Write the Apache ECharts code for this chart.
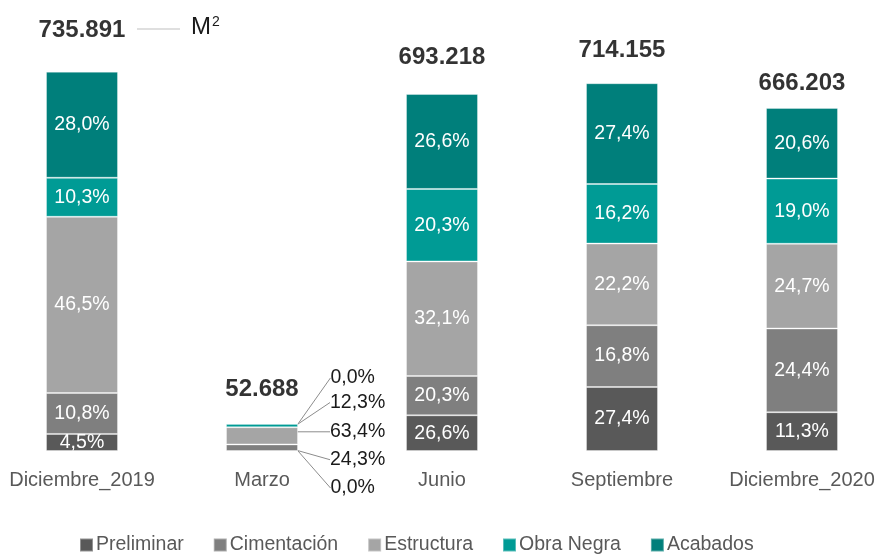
<!DOCTYPE html>
<html>
<head>
<meta charset="utf-8">
<script src="https://cdn.jsdelivr.net/npm/echarts@6/dist/echarts.min.js"></script>
<style>
  html, body { margin: 0; padding: 0; background: #fff; }
  #main { width: 875px; height: 555px; }
</style>
</head>
<body>
<div id="main"></div>
<script>
// datos: m2 totales por corte y participación de cada etapa
var categorias = ['Diciembre_2019', 'Marzo', 'Junio', 'Septiembre', 'Diciembre_2020'];
var totales = [735891, 52688, 693218, 714155, 666203];

// participación (%) usada para la altura de cada tramo
var preliminar = [4.5, 0.0, 10.0, 17.4, 11.3];
var cimentacion = [10.8, 24.3, 11.0, 16.8, 24.4];
var estructura = [46.5, 63.4, 32.1, 22.2, 24.7];
var obraNegra = [10.3, 12.3, 20.3, 16.2, 19.0];
var acabados = [28.0, 0.0, 26.6, 27.4, 20.6];

// porcentajes escritos en las etiquetas
var etqPreliminar = [4.5, 0.0, 26.6, 27.4, 11.3];
var etqCimentacion = [10.8, 24.3, 20.3, 16.8, 24.4];
var etqEstructura = [46.5, 63.4, 32.1, 22.2, 24.7];
var etqObraNegra = [10.3, 12.3, 20.3, 16.2, 19.0];
var etqAcabados = [28.0, 0.0, 26.6, 27.4, 20.6];

var FONT = '"Liberation Sans", Arial, sans-serif';

var etapas = [
    { name: 'Preliminar', color: '#595959', pct: preliminar, etq: etqPreliminar },
    { name: 'Cimentación', color: '#7f7f7f', pct: cimentacion, etq: etqCimentacion },
    { name: 'Estructura', color: '#a5a5a5', pct: estructura, etq: etqEstructura },
    { name: 'Obra Negra', color: '#009b95', pct: obraNegra, etq: etqObraNegra },
    { name: 'Acabados', color: '#007f7b', pct: acabados, etq: etqAcabados }
];

// Marzo es muy bajo: etiquetas afuera con línea guía (desplazamiento vertical)
var desplMarzo = [37, 12, -4, -23, -46];
// distancia del total sobre cada barra
var distTotal = [30, 22, 25, 21, 13];

function pct(v) {
    return v.toFixed(1).replace('.', ',') + '%';
}

function miles(v) {
    return String(v).replace(/\B(?=(\d{3})+(?!\d))/g, '.');
}

var series = etapas.map(function (e) {
    return {
        name: e.name,
        type: 'bar',
        stack: 'total',
        barWidth: 72,
        itemStyle: { color: e.color, borderColor: 'rgba(255,255,255,0.35)', borderWidth: 1 },
        label: {
            show: true,
            position: 'inside',
            color: '#fff',
            fontFamily: FONT,
            fontSize: 19.5,
            formatter: function (p) { return pct(e.etq[p.dataIndex]); }
        },
        labelLine: { show: false },
        labelLayout: function (p) {
            if (p.dataIndex !== 1) return {};
            return {
                x: p.rect.x + p.rect.width + 32,
                y: p.rect.y + p.rect.height / 2 + desplMarzo[p.seriesIndex],
                align: 'left',
                verticalAlign: 'middle'
            };
        },
        data: totales.map(function (t, i) {
            var item = { value: t * e.pct[i] / 100 };
            if (i === 1) {
                item.label = { color: '#1a1a1a' };
                item.labelLine = { show: true, lineStyle: { color: '#8c8c8c', width: 1 } };
            }
            return item;
        })
    };
});

series.push({
    name: 'Total',
    type: 'scatter',
    symbolSize: 0,
    silent: true,
    data: totales.map(function (t, i) {
        return { value: [i, t], label: { distance: distTotal[i] } };
    }),
    label: {
        show: true,
        position: 'top',
        color: '#000',
        fontFamily: FONT,
        fontWeight: 'bold',
        fontSize: 24,
        formatter: function (p) { return miles(totales[p.dataIndex]); }
    }
});

var myChart = echarts.init(document.getElementById('main'));
var option = {
    animation: false,
    textStyle: { fontFamily: FONT },
    grid: { left: -8, right: -17, top: 39, bottom: 104, outerBoundsMode: 'none', containLabel: false },
    legend: {
        data: etapas.map(function (e) { return e.name; }),
        left: 74,
        top: 530,
        itemWidth: 13,
        itemHeight: 13,
        itemGap: 29,
        icon: 'rect',
        textStyle: { color: '#595959', fontSize: 19.5, fontFamily: FONT, padding: [0, 0, 0, -2] }
    },
    xAxis: {
        type: 'category',
        data: categorias,
        axisLine: { show: false },
        axisTick: { show: false },
        axisLabel: { color: '#595959', fontSize: 20, fontFamily: FONT, margin: 19, interval: 0 }
    },
    yAxis: {
        type: 'value',
        min: 0,
        max: 800000,
        show: false
    },
    graphic: [
        { type: 'line', shape: { x1: 137, y1: 29, x2: 180, y2: 29 }, style: { stroke: '#bfbfbf', lineWidth: 1 } },
        {
            type: 'text', left: 191, top: 15,
            style: {
                text: '{m|M}{s|2}',
                rich: {
                    m: { fontSize: 24, fontFamily: FONT, fill: '#1a1a1a' },
                    s: { fontSize: 14, fontFamily: FONT, fill: '#1a1a1a', verticalAlign: 'top', padding: [0, 0, 10, 1] }
                }
            }
        }
    ],
    series: series
};
myChart.setOption(option);
</script>
</body>
</html>
